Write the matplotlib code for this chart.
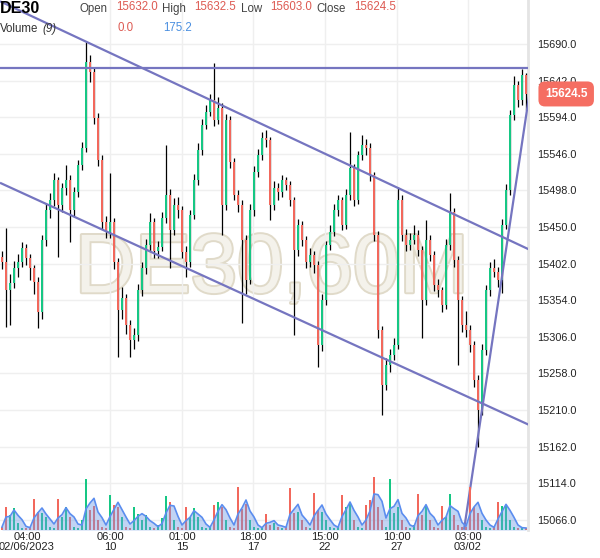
import matplotlib
matplotlib.use("Agg")
import matplotlib.pyplot as plt
import matplotlib.patheffects as pe
import numpy as np
import pandas as pd

# hourly DE30 candles, aggregated (4 bars per candle)
first_open = 15411
closes = [15404, 15367, 15377, 15396, 15404, 15422, 15409, 15396, 15378, 15338,
          15433, 15472, 15485, 15512, 15479, 15501, 15512, 15472, 15496, 15531,
          15554, 15666, 15653, 15593, 15538, 15457, 15443, 15457, 15404, 15341,
          15357, 15321, 15302, 15308, 15367, 15396, 15426, 15457, 15418, 15424,
          15462, 15492, 15446, 15479, 15472, 15417, 15404, 15466, 15512, 15551,
          15584, 15601, 15617, 15590, 15606, 15479, 15590, 15535, 15492, 15479,
          15433, 15381, 15472, 15522, 15544, 15567, 15564, 15479, 15501, 15496,
          15512, 15505, 15485, 15420, 15453, 15433, 15404, 15413, 15400, 15295,
          15354, 15426, 15443, 15472, 15485, 15453, 15492, 15527, 15485, 15544,
          15557, 15554, 15518, 15440, 15315, 15243, 15269, 15282, 15295, 15485,
          15440, 15426, 15433, 15440, 15420, 15354, 15433, 15413, 15374, 15367,
          15348, 15426, 15470, 15407, 15354, 15321, 15315, 15295, 15249, 15210,
          15289, 15367, 15396, 15391, 15381, 15453, 15498, 15597, 15636, 15617,
          15649, 15624.5]
highs = [15418, 15449, 15388, 15405, 15414, 15430, 15428, 15415, 15400, 15385,
         15440, 15480, 15495, 15521, 15515, 15508, 15531, 15518, 15502, 15538,
         15562, 15692.5, 15675, 15658, 15600, 15545, 15465, 15521, 15462, 15410,
         15372, 15362, 15328, 15318, 15375, 15404, 15434, 15468, 15462, 15432,
         15470, 15557, 15500, 15488, 15490, 15478, 15425, 15472, 15520, 15560,
         15592, 15610, 15625, 15665, 15620, 15612, 15598, 15595, 15540, 15498,
         15485, 15440, 15480, 15530, 15552, 15574, 15577, 15568, 15510, 15508,
         15518, 15516, 15510, 15490, 15460, 15458, 15438, 15422, 15418, 15405,
         15362, 15432, 15452, 15480, 15492, 15490, 15500, 15575, 15532, 15550,
         15571, 15565, 15560, 15522, 15445, 15320, 15278, 15290, 15305, 15503,
         15492, 15448, 15442, 15452, 15446, 15425, 15459, 15440, 15418, 15382,
         15372, 15434, 15495, 15475, 15412, 15360, 15340, 15322, 15300, 15256,
         15296, 15374, 15404, 15408, 15398, 15460, 15506, 15604, 15648, 15642,
         15657, 15652]
lows = [15395, 15319, 15322, 15370, 15385, 15398, 15400, 15380, 15362, 15318,
        15330, 15425, 15462, 15478, 15411, 15470, 15492, 15430, 15465, 15490,
        15525, 15548, 15640, 15585, 15530, 15448, 15435, 15436, 15395, 15280,
        15330, 15310, 15280, 15290, 15300, 15360, 15388, 15418, 15410, 15410,
        15418, 15455, 15396, 15440, 15462, 15410, 15384, 15398, 15460, 15505,
        15545, 15578, 15595, 15582, 15585, 15440, 15472, 15528, 15485, 15470,
        15324, 15362, 15375, 15465, 15515, 15538, 15555, 15459, 15472, 15486,
        15490, 15498, 15478, 15309, 15412, 15425, 15396, 15398, 15390, 15266,
        15288, 15348, 15420, 15438, 15465, 15446, 15448, 15486, 15478, 15480,
        15538, 15545, 15510, 15432, 15305, 15203, 15236, 15260, 15275, 15290,
        15432, 15418, 15420, 15428, 15412, 15304, 15348, 15405, 15366, 15358,
        15338, 15342, 15420, 15398, 15269, 15312, 15306, 15286, 15240, 15161.5,
        15204, 15282, 15360, 15384, 15372, 15363, 15448, 15492, 15590, 15608,
        15610, 15603]
volumes = [300, 2300, 1500, 2200, 700, 200, 200, 300, 3100, 1800, 1700, 1300,
           300, 200, 3100, 1300, 2300, 1300, 300, 200, 1000, 5100, 2000, 2400,
           1000, 300, 200, 3500, 2500, 2300, 1300, 300, 200, 2300, 1600, 1000,
           1500, 300, 200, 500, 1200, 3400, 2800, 1000, 300, 200, 2300, 1300,
           2200, 1300, 300, 200, 300, 2500, 2800, 2300, 1000, 300, 200, 4300,
           2100, 2600, 1000, 300, 200, 200, 1600, 500, 700, 300, 200, 300,
           4200, 1700, 1800, 1000, 300, 200, 3700, 2000, 1800, 1000, 300, 200,
           300, 3500, 2300, 2600, 1000, 300, 200, 2500, 3000, 5300, 2300, 1000,
           300, 5100, 1700, 2300, 1000, 300, 200, 500, 3600, 1500, 2500, 1000,
           300, 200, 2400, 1300, 3600, 1500, 500, 300, 300, 4300, 2300, 1700,
           1000, 300, 200, 300, 2800, 2400, 2500, 1000, 300, 200, 200, 200]

tick_pos = [6.25, 27, 45, 62.75, 80.75, 98.75, 116.5]
tick_labels = ["04:00\n02/06/2023", "06:00\n10", "01:00\n15", "18:00\n17",
               "15:00\n22", "10:00\n27", "03:00\n03/02"]
price_ticks = [15066, 15114, 15162, 15210, 15258, 15306, 15354, 15402,
               15450, 15498, 15546, 15594, 15642, 15690]

# drawing tools: (x0, y0, x1, y1) in candle index / price
resistance = (-0.5, 15658.5, 131.5, 15658.5)
channel_top = (-0.5, 15746, 132, 15420)
channel_bottom = (-0.5, 15508, 132, 15190)
support = (115.5, 15053, 132, 15630)

header = [("Open", 15632.0), ("High", 15632.5), ("Low", 15603.0), ("Close", 15624.5)]
vol_last, vol_ma_last = 0.0, 175.2

GREEN = "#16c784"
RED = "#f2685c"
LINE = "#7575c0"
FONT = "Liberation Sans"

opens = [first_open] + closes[:-1]
x = np.arange(len(closes))
o = np.array(opens)
c = np.array(closes)
up = c >= o
colors = np.where(up, GREEN, RED)

fig = plt.figure(figsize=(6, 5.58), dpi=100)
ax = fig.add_axes([0, 28 / 558, 528 / 600, 530 / 558])
ax.set_xlim(-0.5, 131.5)
ax.set_ylim(15052.7, 15747.7)

ax.text(0.515, 0.49, "DE30,60M", transform=ax.transAxes, ha="center", va="center",
        fontsize=60, family=FONT, color="#f4f2eb", zorder=0,
        path_effects=[pe.withStroke(linewidth=2.8, foreground="#e0dac9")])

ax.vlines(x, lows, highs, color="black", lw=0.9, zorder=3)
ax.bar(x, c - o, bottom=o, width=0.45, color=colors, zorder=4)

for x0, y0, x1, y1 in [resistance, channel_top, channel_bottom, support]:
    ax.plot([x0, x1], [y0, y1], color=LINE, lw=1.6, zorder=6, solid_capstyle="butt")

# volume + MA overlay on the bottom of the price pane
vax = ax.twinx()
vax.set_ylim(0, 53000)
vax.bar(x, volumes, width=0.38, color=colors, zorder=2)
vol_ma = pd.Series(volumes).rolling(3, min_periods=1).mean()
vax.fill_between(x, vol_ma, color="#6d9ae6", alpha=0.42, lw=0, zorder=3)
vax.plot(x, vol_ma, color="#5b8def", lw=1.2, zorder=4)
vax.set_yticks([])
for s in vax.spines.values():
    s.set_visible(False)

ax.yaxis.tick_right()
ax.set_yticks(price_ticks)
ax.set_yticklabels([f"{p:.1f}" for p in price_ticks], family=FONT, fontsize=7.8, color="#222")
ax.set_xticks(tick_pos)
ax.set_xticklabels(tick_labels, family=FONT, fontsize=8, color="#222", linespacing=0.95)
ax.tick_params(axis="y", length=0, pad=6.5)
ax.tick_params(axis="x", length=0, pad=1.5)
ax.grid(True, color="#efefef", lw=1, zorder=0)
ax.xaxis.get_gridlines()[0].set_visible(False)
ax.set_axisbelow(True)
for name, s in ax.spines.items():
    s.set_visible(name == "right")
ax.spines["right"].set_color("#e4e4e4")
ax.spines["right"].set_linewidth(2)

ax.annotate(f"{closes[-1]:.1f}", xy=(1, closes[-1]), xycoords=("axes fraction", "data"),
            xytext=(27.5, 0), textcoords="offset points", ha="center", va="center",
            fontsize=8.5, fontweight="bold", family=FONT, color="white", zorder=10,
            annotation_clip=False,
            bbox=dict(boxstyle="round,pad=0.55", fc="#f56e62", ec="none"))


def px(xp, yp):
    return xp / 600, 1 - yp / 558


fig.text(*px(0, 1), "DE30", fontsize=11.5, fontweight="bold", family=FONT, va="top")
label_x = [80, 162, 241, 316]
value_x = [116, 194, 270, 354]
for (name, val), lx, vx in zip(header, label_x, value_x):
    fig.text(*px(lx, 3), name, fontsize=8.3, family=FONT, color="#444", va="top")
    fig.text(*px(vx, 1), f"{val:.1f}", fontsize=8.3, family=FONT, color="#dd5a52", va="top")
fig.text(*px(0, 23), "Volume", fontsize=8.3, family=FONT, color="#333", va="top")
fig.text(*px(42, 23), "(9)", fontsize=8.3, family=FONT, color="#333", va="top", style="italic")
fig.text(*px(117, 22), f"{vol_last:.1f}", fontsize=8.3, family=FONT, color="#dd5a52", va="top")
fig.text(*px(163, 22), f"{vol_ma_last:.1f}", fontsize=8.3, family=FONT, color="#4a8fe0", va="top")

fig.savefig("out.png", dpi=100, facecolor="white")
